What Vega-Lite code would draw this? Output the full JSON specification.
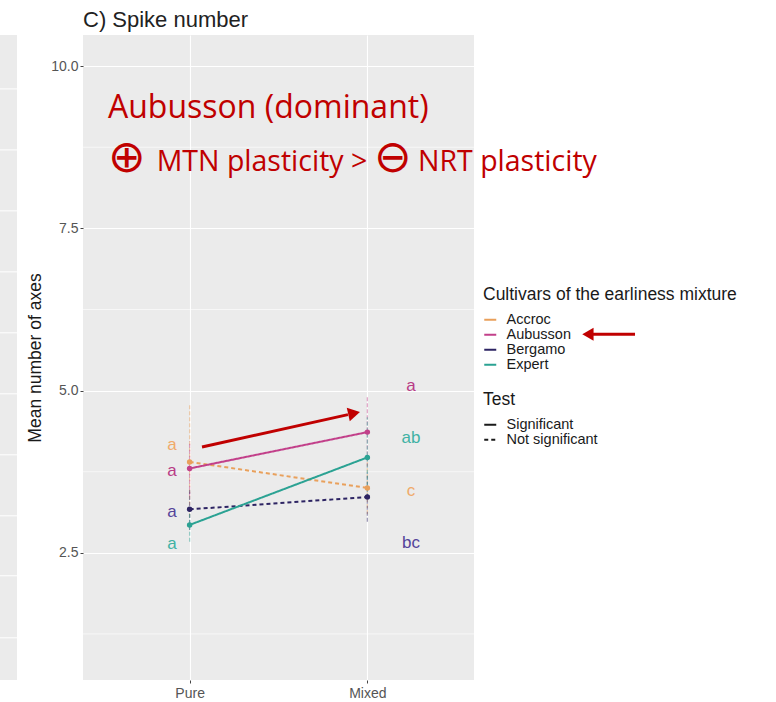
{
  "$schema": "https://vega.github.io/schema/vega-lite/v6.json",
  "width": 391,
  "height": 645,
  "autosize": "none",
  "padding": {"left": 83, "top": 35, "right": 302, "bottom": 22},
  "background": "white",
  "config": {
    "view": {"fill": "#EBEBEB", "stroke": null},
    "font": "Liberation Sans"
  },
  "title": {
    "text": "C) Spike number",
    "anchor": "start",
    "frame": "group",
    "fontSize": 22,
    "fontWeight": "normal",
    "font": "Liberation Sans",
    "color": "#222222",
    "offset": 3
  },
  "datasets": {
    "means": [
      {"cultivar": "Accroc", "condition": "Pure", "x": 1, "mean": 3.90, "lo": 3.05, "hi": 4.78, "test": "Not significant"},
      {"cultivar": "Accroc", "condition": "Mixed", "x": 2, "mean": 3.50, "lo": 3.10, "hi": 3.90, "test": "Not significant"},
      {"cultivar": "Aubusson", "condition": "Pure", "x": 1, "mean": 3.80, "lo": 3.38, "hi": 4.22, "test": "Significant"},
      {"cultivar": "Aubusson", "condition": "Mixed", "x": 2, "mean": 4.36, "lo": 3.82, "hi": 4.90, "test": "Significant"},
      {"cultivar": "Bergamo", "condition": "Pure", "x": 1, "mean": 3.17, "lo": 2.85, "hi": 3.49, "test": "Not significant"},
      {"cultivar": "Bergamo", "condition": "Mixed", "x": 2, "mean": 3.36, "lo": 2.98, "hi": 3.74, "test": "Not significant"},
      {"cultivar": "Expert", "condition": "Pure", "x": 1, "mean": 2.93, "lo": 2.67, "hi": 3.19, "test": "Significant"},
      {"cultivar": "Expert", "condition": "Mixed", "x": 2, "mean": 3.97, "lo": 3.35, "hi": 4.59, "test": "Significant"}
    ],
    "letters": [
      {"cultivar": "Accroc", "x": 0.9, "y": 4.16, "letter": "a"},
      {"cultivar": "Aubusson", "x": 0.9, "y": 3.76, "letter": "a"},
      {"cultivar": "Bergamo", "x": 0.9, "y": 3.13, "letter": "a"},
      {"cultivar": "Expert", "x": 0.9, "y": 2.64, "letter": "a"},
      {"cultivar": "Aubusson", "x": 2.245, "y": 5.07, "letter": "a"},
      {"cultivar": "Expert", "x": 2.245, "y": 4.265, "letter": "ab"},
      {"cultivar": "Accroc", "x": 2.245, "y": 3.457, "letter": "c"},
      {"cultivar": "Bergamo", "x": 2.245, "y": 2.647, "letter": "bc"}
    ],
    "minorgrid": [{"v": 1.25}, {"v": 3.75}, {"v": 6.25}, {"v": 8.75}],
    "strip": [{"x0": -0.067, "x1": 0.0287, "y0": 0.54, "y1": 10.48}],
    "stripgrid": [
      {"x0": -0.067, "x1": 0.0287, "v": 9.649},
      {"x0": -0.067, "x1": 0.0287, "v": 8.709},
      {"x0": -0.067, "x1": 0.0287, "v": 7.770},
      {"x0": -0.067, "x1": 0.0287, "v": 6.830},
      {"x0": -0.067, "x1": 0.0287, "v": 5.890},
      {"x0": -0.067, "x1": 0.0287, "v": 4.950},
      {"x0": -0.067, "x1": 0.0287, "v": 4.010},
      {"x0": -0.067, "x1": 0.0287, "v": 3.070},
      {"x0": -0.067, "x1": 0.0287, "v": 2.146},
      {"x0": -0.067, "x1": 0.0287, "v": 1.190}
    ],
    "arrowlines": [
      {"x0": 1.0696, "y0": 4.131, "x1": 1.891, "y1": 4.630},
      {"x0": 3.506, "y0": 5.868, "x1": 3.260, "y1": 5.868}
    ],
    "headplot": [{"x": 1.9254, "y": 4.650}],
    "headlegend": [{"x": 3.241, "y": 5.868}],
    "line1": [{"label": "Aubusson (dominant)", "x": 0.5407, "y": 9.196}],
    "line2": [
      {"label": "MTN plasticity >", "x": 0.8147, "y": 8.389},
      {"label": "NRT plasticity", "x": 2.2849, "y": 8.389}
    ],
    "symbols": [
      {"label": "⊕", "x": 0.540, "y": 8.375},
      {"label": "⊖", "x": 2.037, "y": 8.375}
    ]
  },
  "layer": [
    {
      "data": {"name": "minorgrid"},
      "mark": {"type": "rule", "color": "white", "strokeWidth": 0.6},
      "encoding": {
        "y": {
          "field": "v", "type": "quantitative",
          "scale": {"domain": [0.54, 10.48], "nice": false, "zero": false},
          "axis": {
            "values": [2.5, 5, 7.5, 10],
            "format": ".1f",
            "title": "Mean number of axes",
            "titleFontSize": 17.5, "titleFontWeight": "normal", "titleColor": "#1A1A1A", "titleFont": "Liberation Sans",
            "titlePadding": 6,
            "grid": true, "gridColor": "white", "gridWidth": 1.1,
            "domain": false,
            "tickColor": "#444444", "tickSize": 3,
            "labelFontSize": 14, "labelColor": "#555555", "labelPadding": 2,
            "labelFont": "Liberation Sans"
          }
        }
      }
    },
    {
      "data": {"name": "strip"},
      "mark": {"type": "rect", "color": "#EBEBEB", "clip": false},
      "encoding": {
        "x": {
          "field": "x0", "type": "quantitative",
          "scale": {"domain": [0.4, 2.6], "nice": false, "zero": false},
          "axis": {
            "values": [1, 2],
            "labelExpr": "datum.value == 1 ? 'Pure' : 'Mixed'",
            "title": null,
            "grid": true, "gridColor": "white", "gridWidth": 1.1,
            "domain": false,
            "ticks": true, "tickColor": "#444444", "tickSize": 3,
            "labelFontSize": 14, "labelColor": "#555555", "labelPadding": 3,
            "labelFont": "Liberation Sans"
          }
        },
        "x2": {"field": "x1"},
        "y": {"field": "y0", "type": "quantitative"},
        "y2": {"field": "y1"}
      }
    },
    {
      "data": {"name": "stripgrid"},
      "mark": {"type": "rule", "color": "white", "strokeWidth": 1, "clip": false},
      "encoding": {
        "x": {"field": "x0", "type": "quantitative"},
        "x2": {"field": "x1"},
        "y": {"field": "v", "type": "quantitative"}
      }
    },
    {
      "data": {"name": "means"},
      "mark": {"type": "rule", "strokeWidth": 1.3, "opacity": 0.45, "strokeDash": [4, 2]},
      "encoding": {
        "x": {"field": "x", "type": "quantitative"},
        "y": {"field": "lo", "type": "quantitative"},
        "y2": {"field": "hi"},
        "color": {
          "field": "cultivar", "type": "nominal",
          "scale": {"domain": ["Accroc", "Aubusson", "Bergamo", "Expert"], "range": ["#E9A05B", "#C2408A", "#2D2463", "#2BA293"]},
          "legend": {
            "title": "Cultivars of the earliness mixture",
            "orient": "none", "legendX": 400, "legendY": 251,
            "titleFontSize": 17.5, "titleFontWeight": "normal", "titleColor": "#1A1A1A", "titleFont": "Liberation Sans",
            "titleLimit": 400, "titlePadding": 9,
            "labelFontSize": 14.5, "labelColor": "#1A1A1A", "labelFont": "Liberation Sans",
            "symbolType": "stroke", "symbolSize": 144, "symbolStrokeWidth": 2, "symbolOpacity": 1, "symbolDash": [1, 0],
            "labelOffset": 9, "rowPadding": 0
          }
        }
      }
    },
    {
      "data": {"name": "means"},
      "mark": {"type": "line", "strokeWidth": 2},
      "encoding": {
        "x": {"field": "x", "type": "quantitative"},
        "y": {"field": "mean", "type": "quantitative"},
        "detail": {"field": "cultivar"},
        "color": {"field": "cultivar", "type": "nominal"},
        "strokeDash": {
          "field": "test", "type": "nominal",
          "scale": {"domain": ["Significant", "Not significant"], "range": [[1, 0], [4, 3]]},
          "legend": {
            "title": "Test",
            "orient": "none", "legendX": 400, "legendY": 356,
            "titleFontSize": 17.5, "titleFontWeight": "normal", "titleColor": "#1A1A1A", "titleFont": "Liberation Sans",
            "titlePadding": 9,
            "labelFontSize": 14.5, "labelColor": "#1A1A1A", "labelFont": "Liberation Sans",
            "symbolType": "stroke", "symbolSize": 144, "symbolStrokeWidth": 2, "symbolStrokeColor": "#1A1A1A",
            "labelOffset": 9, "rowPadding": 0
          }
        }
      }
    },
    {
      "data": {"name": "means"},
      "mark": {"type": "point", "filled": true, "size": 30, "opacity": 1},
      "encoding": {
        "x": {"field": "x", "type": "quantitative"},
        "y": {"field": "mean", "type": "quantitative"},
        "color": {"field": "cultivar", "type": "nominal"}
      }
    },
    {
      "data": {"name": "letters"},
      "mark": {"type": "text", "fontSize": 17, "font": "Liberation Sans", "align": "center", "baseline": "middle"},
      "encoding": {
        "x": {"field": "x", "type": "quantitative"},
        "y": {"field": "y", "type": "quantitative"},
        "text": {"field": "letter"},
        "fill": {
          "field": "cultivar", "type": "nominal",
          "scale": {"domain": ["Accroc", "Aubusson", "Bergamo", "Expert"], "range": ["#F0AA6A", "#B83C86", "#54449A", "#3FB2A4"]},
          "legend": null
        }
      }
    },
    {
      "data": {"name": "arrowlines"},
      "mark": {"type": "rule", "color": "#C00000", "strokeWidth": 3, "clip": false},
      "encoding": {
        "x": {"field": "x0", "type": "quantitative"},
        "y": {"field": "y0", "type": "quantitative"},
        "x2": {"field": "x1"},
        "y2": {"field": "y1"}
      }
    },
    {
      "data": {"name": "headplot"},
      "mark": {"type": "point", "shape": "triangle-right", "filled": true, "color": "#C00000", "opacity": 1, "size": 190, "angle": 347.5, "clip": false},
      "encoding": {
        "x": {"field": "x", "type": "quantitative"},
        "y": {"field": "y", "type": "quantitative"}
      }
    },
    {
      "data": {"name": "headlegend"},
      "mark": {"type": "point", "shape": "triangle-left", "filled": true, "color": "#C00000", "opacity": 1, "size": 170, "clip": false},
      "encoding": {
        "x": {"field": "x", "type": "quantitative"},
        "y": {"field": "y", "type": "quantitative"}
      }
    },
    {
      "data": {"name": "line1"},
      "mark": {"type": "text", "font": "Open Sans", "fontSize": 32, "align": "left", "baseline": "alphabetic", "color": "#C00000", "clip": false},
      "encoding": {
        "x": {"field": "x", "type": "quantitative"},
        "y": {"field": "y", "type": "quantitative"},
        "text": {"field": "label"}
      }
    },
    {
      "data": {"name": "line2"},
      "mark": {"type": "text", "font": "Open Sans", "fontSize": 28.5, "align": "left", "baseline": "alphabetic", "color": "#C00000", "clip": false},
      "encoding": {
        "x": {"field": "x", "type": "quantitative"},
        "y": {"field": "y", "type": "quantitative"},
        "text": {"field": "label"}
      }
    },
    {
      "data": {"name": "symbols"},
      "mark": {"type": "text", "font": "DejaVu Sans", "fontSize": 45, "align": "left", "baseline": "alphabetic", "color": "#C00000", "clip": false},
      "encoding": {
        "x": {"field": "x", "type": "quantitative"},
        "y": {"field": "y", "type": "quantitative"},
        "text": {"field": "label"}
      }
    }
  ]
}
